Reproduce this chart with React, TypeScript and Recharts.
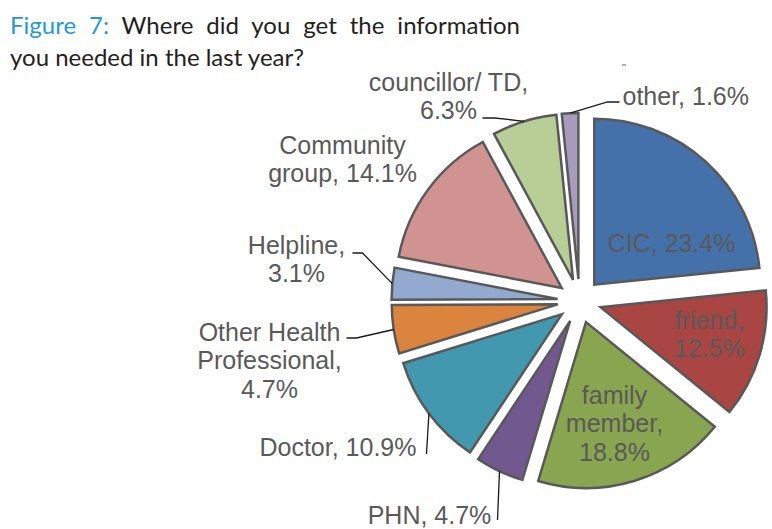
import React from 'react';
import { PieChart, Pie, Cell, Sector } from 'recharts';

// survey answers, share of respondents (%)
const sources = ['CIC', 'friend', 'family member', 'PHN', 'Doctor', 'Other Health Professional', 'Helpline', 'Community group', 'councillor/ TD', 'other'];
const shares = [23.4, 12.5, 18.8, 4.7, 10.9, 4.7, 3.1, 14.1, 6.3, 1.6];

const colors = ['#4471a9', '#a94542', '#8aa54f', '#71598f', '#4198af', '#db843d', '#93a9cf', '#d09392', '#b9cd96', '#a99bbd'];

const data = sources.map((name, i) => ({ name, value: shares[i] }));

const CX = 579.5;
const CY = 301;
const R = 166;
const EXPLODE = 22;
const FONT = 25;
const LINE_H = 28.5;
const RAD = Math.PI / 180;

// label placement relative to pie centre; words = words per line
type LabelLayout = {
    dx: number;
    dy: number;
    anchor: 'start' | 'middle' | 'end';
    words: number[];
    leader?: number[][];
};

const labelLayout: LabelLayout[] = [
    { dx: 92, dy: -58, anchor: 'middle', words: [2] },
    { dx: 130, dy: 19, anchor: 'middle', words: [1, 1] },
    { dx: 35, dy: 94, anchor: 'middle', words: [1, 1, 1] },
    { dx: -150, dy: 214, anchor: 'middle', words: [2], leader: [[-82, 219]] },
    { dx: -163, dy: 146, anchor: 'end', words: [2], leader: [[-153, 153]] },
    { dx: -310, dy: 31, anchor: 'middle', words: [2, 1, 1], leader: [[-233, 37], [-223, 37]] },
    { dx: -283, dy: -56, anchor: 'middle', words: [1, 1], leader: [[-227, -48], [-217, -48]] },
    { dx: -237, dy: -156, anchor: 'middle', words: [1, 2] },
    { dx: -131, dy: -219, anchor: 'middle', words: [2, 1], leader: [[-97, -183], [-85, -183]] },
    { dx: 43, dy: -205, anchor: 'start', words: [2], leader: [[40, -199], [28, -199]] },
];

const ExplodedSector = (props: any) => {
    const { cx, cy, midAngle } = props;
    const ox = EXPLODE * Math.cos(-midAngle * RAD);
    const oy = EXPLODE * Math.sin(-midAngle * RAD);
    return <Sector {...props} cx={cx + ox} cy={cy + oy} />;
};

const renderLabel = (props: any) => {
    const { cx, cy, midAngle, outerRadius, index, name, value } = props;
    const lay = labelLayout[index];
    const words = `${name}, ${value}%`.split(' ');
    const lines: string[] = [];
    let k = 0;
    lay.words.forEach((n) => {
        lines.push(words.slice(k, k + n).join(' '));
        k += n;
    });
    const x = cx + lay.dx;
    const y0 = cy + lay.dy;

    let leader = null;
    if (lay.leader) {
        const c = Math.cos(-midAngle * RAD);
        const s = Math.sin(-midAngle * RAD);
        const ex = cx + (EXPLODE + outerRadius) * c;
        const ey = cy + (EXPLODE + outerRadius) * s;
        const pts = lay.leader.map(([px, py]) => `${cx + px},${cy + py}`).concat(`${ex},${ey}`);
        leader = <polyline points={pts.join(' ')} fill="none" stroke="#1a1a1a" strokeWidth={1.3} />;
    }

    return (
        <g key={`label-${index}`}>
            {leader}
            <text x={x} textAnchor={lay.anchor} fill="#595959" fontSize={FONT} fontFamily="'Liberation Sans', Arial, sans-serif">
                {lines.map((ln, i) => (
                    <tspan key={i} x={x} y={y0 + i * LINE_H + FONT * 0.35}>{ln}</tspan>
                ))}
            </text>
        </g>
    );
};

const App = () => {
    return (
        <div style={{ position: 'absolute', left: 0, top: 0, width: 772, height: 529, background: '#fff' }}>
            <PieChart width={772} height={529} margin={{ top: 0, right: 0, bottom: 0, left: 0 }}>
                <Pie
                    data={data}
                    dataKey="value"
                    nameKey="name"
                    cx={CX}
                    cy={CY}
                    outerRadius={R}
                    startAngle={90}
                    endAngle={-270}
                    stroke="#595959"
                    strokeWidth={2.5}
                    shape={ExplodedSector}
                    label={renderLabel}
                    labelLine={false}
                    isAnimationActive={false}
                >
                    {data.map((d, i) => (
                        <Cell key={`cell-${i}`} fill={colors[i]} />
                    ))}
                </Pie>
                {/* stray tick mark present in the source figure */}
                <line x1={622} y1={65} x2={626} y2={65} stroke="#7f7f7f" strokeWidth={1.2} />
            </PieChart>
            <div style={{ position: 'absolute', left: 10, top: 9, fontFamily: 'Lato, sans-serif', fontSize: 24, color: '#231f20', lineHeight: '32px' }}>
                <div style={{ width: 510, textAlign: 'justify', textAlignLast: 'justify', whiteSpace: 'nowrap' }}>
                    <span style={{ color: '#1f9ad6' }}>Figure 7:</span> Where did you get the information
                </div>
                <div>you needed in the last year?</div>
            </div>
        </div>
    );
};

export default App;
